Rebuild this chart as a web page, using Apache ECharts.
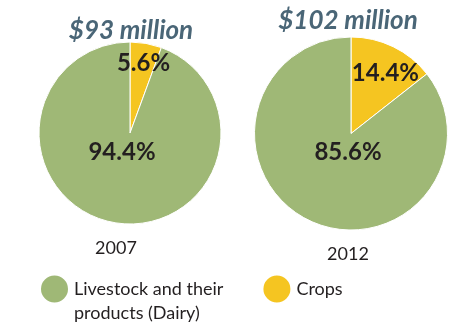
<!DOCTYPE html>
<html><head><meta charset="utf-8">
<script src="https://cdn.jsdelivr.net/npm/echarts@6/dist/echarts.min.js"></script>
<style>html,body{margin:0;padding:0;background:#fff}#c{width:458px;height:325px}</style>
</head><body><div id="c"></div>
<script>
const categories = ["Crops", "Livestock and their products (Dairy)"];
const years = ["2007", "2012"];
const totals = ["$93 million", "$102 million"];
const values2007 = [5.6, 94.4];
const values2012 = [14.4, 85.6];

const GREEN = "#9fb876", YELLOW = "#f5c521";
const FONT = "Lato";
const chart = echarts.init(document.getElementById('c'));

function pieSeries(vals, center, radius, cropOff, liveOff) {
  return {
    type: 'pie', center: center, radius: radius, startAngle: 90, clockwise: true,
    animation: false, silent: true,
    itemStyle: { borderColor: '#fff', borderWidth: 1 },
    labelLine: { show: false },
    data: categories.map((n, i) => ({
      name: n, value: vals[i],
      itemStyle: { color: i === 0 ? YELLOW : GREEN },
      label: {
        show: true, position: i === 0 ? 'inside' : 'center',
        offset: i === 0 ? cropOff : liveOff,
        formatter: p => p.value.toFixed(1) + '%',
        color: '#231f20', fontFamily: FONT, fontWeight: 'bold', fontSize: 24
      }
    }))
  };
}

const titleStyle = { color: '#4a6677', fontFamily: FONT, fontStyle: 'italic', fontWeight: 'bold', fontSize: 26 };
const yearStyle = { color: '#231f20', fontFamily: FONT, fontWeight: 'normal', fontSize: 18 };

chart.setOption({
  animation: false,
  title: [
    { text: totals[0], left: 131, top: 18, textAlign: 'center', padding: 0, textStyle: titleStyle },
    { text: totals[1], left: 348, top: 8, textAlign: 'center', padding: 0, textStyle: titleStyle },
    { text: years[0], left: 116, top: 239, textAlign: 'center', padding: 0, textStyle: yearStyle },
    { text: years[1], left: 348, top: 245, textAlign: 'center', padding: 0, textStyle: yearStyle }
  ],
  legend: {
    left: 39, top: 253, padding: 0, orient: 'horizontal', itemGap: 38,
    icon: 'circle', itemWidth: 29, itemHeight: 29,
    data: [categories[1], categories[0]],
    formatter: n => n.indexOf('and their ') >= 0 ? '\n' + n.replace('and their ', 'and their\n') : n,
    textStyle: { color: '#231f20', fontFamily: FONT, fontSize: 18, lineHeight: 24 },
    selectedMode: false
  },
  series: [
    pieSeries(values2007, [130, 133], 91, [5, -22], [-8, 19]),
    pieSeries(values2012, [351, 133.5], 96.5, [12, -14], [-3, 18.5])
  ]
});
</script></body></html>
